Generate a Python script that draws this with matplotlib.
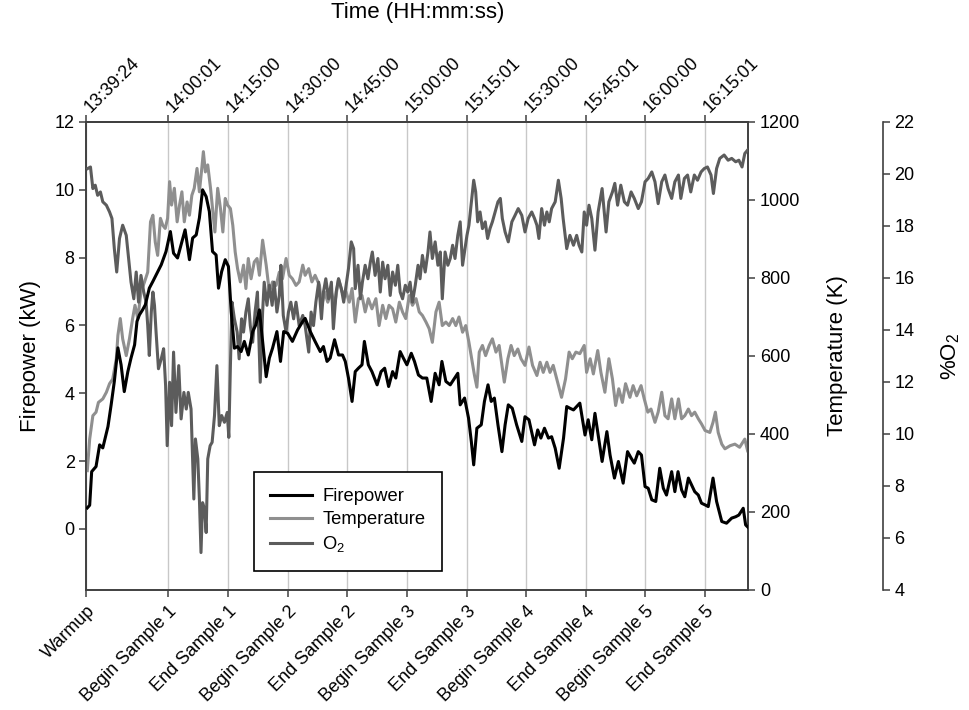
import matplotlib
matplotlib.use("Agg")
import matplotlib.pyplot as plt

plt.rcParams.update(
    {
        "font.family": ["Liberation Sans", "DejaVu Sans"],
        "font.size": 13,
        "mathtext.fontset": "custom",
        "mathtext.rm": "Liberation Sans",
        "mathtext.it": "Liberation Sans:italic",
        "mathtext.bf": "Liberation Sans:bold",
        "axes.linewidth": 1.2,
        "axes.edgecolor": "#404040",
    }
)

# elapsed minutes since 13:39:24
TICK_MIN = [0, 20.62, 35.6, 50.6, 65.6, 80.6, 95.62, 110.6, 125.62, 140.6, 155.62]
TIME_LABELS = ["13:39:24", "14:00:01", "14:15:00", "14:30:00", "14:45:00", "15:00:00",
               "15:15:01", "15:30:00", "15:45:01", "16:00:00", "16:15:01"]
EVENT_LABELS = ["Warmup", "Begin Sample 1", "End Sample 1", "Begin Sample 2", "End Sample 2",
                "Begin Sample 3", "End Sample 3", "Begin Sample 4", "End Sample 4",
                "Begin Sample 5", "End Sample 5"]

FP_MIN = [0.2, 0.8, 1.3, 2.4, 3.3, 4.1, 5.4, 6.2, 7.0, 7.9, 8.7, 9.5, 10.4, 11.2, 12.1, 12.7, 13.3,
          14.1, 14.8, 15.8, 16.7, 18.8, 20.0, 21.1, 21.9, 22.9, 23.8, 24.8, 25.9, 26.7, 27.6, 28.4,
          29.2, 30.1, 30.9, 31.7, 32.6, 33.2, 34.0, 34.9, 35.7, 36.4, 37.2, 38.0, 38.9, 39.7, 40.7,
          41.8, 42.6, 43.5, 44.3, 45.2, 46.0, 46.8, 47.9, 48.8, 49.6, 50.6, 51.8, 53.1, 54.4, 55.0,
          56.3, 57.5, 58.8, 59.6, 60.5, 61.3, 62.4, 63.4, 64.4, 65.1, 65.9, 66.8, 67.6, 68.4, 69.3,
          69.9, 70.9, 71.8, 73.1, 74.1, 75.0, 76.0, 77.0, 77.8, 78.9, 79.7, 80.6, 81.7, 82.5, 83.5,
          84.5, 85.6, 86.7, 87.7, 88.7, 89.4, 90.4, 91.5, 92.6, 93.4, 94.0, 95.1, 96.1, 96.8, 97.4,
          98.2, 99.3, 100.1, 101.0, 101.8, 102.6, 103.5, 104.5, 105.3, 106.1, 107.1, 108.2, 109.5,
          110.3, 111.3, 112.7, 113.5, 114.3, 115.2, 116.2, 117.0, 117.9, 118.9, 120.0, 120.8, 121.6,
          122.5, 123.3, 124.1, 124.7, 125.4, 126.2, 127.1, 127.9, 128.7, 129.7, 130.9, 131.7, 132.8,
          133.8, 135.0, 136.1, 137.0, 137.8, 138.8, 139.6, 140.5, 141.3, 142.2, 143.2, 144.2, 145.1,
          145.9, 147.2, 148.0, 148.8, 149.7, 150.5, 151.4, 152.2, 153.0, 153.9, 154.7, 155.6, 156.4,
          157.6, 158.5, 159.8, 161.0, 162.3, 163.3, 164.1, 165.2, 165.8, 166.4]
FP_KW = [0.62, 0.70, 1.69, 1.84, 2.48, 2.39, 3.02, 3.66, 4.35, 5.34, 4.84, 4.05, 4.64, 5.04, 5.43, 6.12,
         6.31, 6.46, 6.61, 7.10, 7.30, 7.79, 8.18, 8.77, 8.13, 7.99, 8.38, 8.82, 7.94, 8.58, 8.67, 9.17,
         10.0, 9.80, 9.36, 8.18, 8.08, 7.10, 7.59, 7.94, 7.74, 6.41, 5.33, 5.38, 5.23, 5.53, 5.13, 5.82,
         6.02, 6.46, 5.53, 4.49, 5.04, 5.33, 5.82, 4.94, 5.82, 5.77, 5.53, 5.87, 6.12, 6.21, 5.82, 5.53,
         5.23, 5.38, 4.94, 5.04, 5.58, 5.13, 5.13, 4.94, 4.45, 3.76, 4.64, 4.74, 4.84, 5.53, 4.84, 4.64,
         4.25, 4.64, 4.74, 4.20, 4.64, 4.45, 5.23, 5.04, 4.84, 5.18, 4.94, 4.54, 4.45, 4.45, 3.76, 4.59,
         4.25, 4.94, 4.35, 4.25, 4.45, 4.59, 3.66, 3.86, 3.27, 2.58, 1.89, 2.97, 3.07, 3.76, 4.25, 3.76,
         3.86, 3.07, 2.28, 3.07, 3.66, 3.56, 3.07, 2.58, 3.31, 3.22, 2.48, 2.92, 2.68, 2.97, 2.68, 2.72,
         2.38, 1.79, 2.68, 3.61, 3.56, 3.51, 3.61, 3.71, 3.27, 2.77, 3.22, 2.63, 3.41, 2.77, 1.99, 2.87,
         2.18, 1.50, 1.99, 1.35, 2.28, 2.09, 1.94, 2.28, 2.18, 1.25, 1.20, 0.86, 0.81, 1.79, 1.20, 1.00,
         1.69, 1.10, 1.69, 1.15, 0.95, 1.50, 1.30, 1.10, 1.00, 0.76, 0.71, 0.66, 1.50, 0.81, 0.22, 0.17,
         0.32, 0.36, 0.41, 0.61, 0.12, 0.05]

TEMP_MIN = [0.2, 0.8, 1.6, 2.4, 3.0, 4.1, 5.0, 5.8, 6.6, 7.5, 7.9, 8.5, 9.1, 10.0, 10.8, 11.6, 12.2,
            12.9, 13.7, 14.6, 15.4, 16.1, 16.7, 17.3, 17.9, 18.6, 19.2, 19.8, 20.4, 20.9, 21.4, 22.1,
            22.8, 23.4, 24.0, 24.6, 25.3, 25.9, 26.5, 27.1, 27.8, 28.4, 29.0, 29.4, 29.9, 30.5, 31.2,
            31.7, 32.3, 33.0, 33.7, 34.3, 34.9, 35.5, 36.2, 36.8, 37.4, 38.0, 38.7, 39.5, 40.1, 40.7,
            41.4, 42.2, 42.9, 43.5, 44.3, 45.2, 46.0, 46.8, 47.7, 48.5, 49.3, 50.2, 51.0, 51.8, 52.7,
            53.5, 54.4, 55.0, 55.9, 56.7, 57.5, 58.6, 59.2, 59.9, 60.7, 61.6, 62.4, 63.4, 64.3, 65.3,
            66.1, 66.8, 67.6, 68.4, 69.3, 70.1, 70.9, 71.8, 72.8, 73.6, 74.5, 75.3, 76.1, 77.0, 77.8,
            78.7, 79.5, 80.3, 81.2, 82.0, 82.9, 83.7, 84.5, 85.4, 86.2, 87.0, 87.9, 88.7, 89.5, 90.4,
            91.2, 92.1, 92.9, 93.7, 94.6, 95.4, 96.2, 96.9, 97.6, 98.2, 98.8, 99.6, 100.4, 101.3, 102.1,
            103.0, 103.8, 104.5, 105.1, 106.0, 106.8, 107.6, 108.5, 109.3, 110.3, 111.3, 112.2, 113.3,
            114.1, 114.9, 115.8, 116.6, 117.4, 118.3, 119.5, 120.5, 121.4, 122.2, 123.1, 124.1, 125.2,
            125.8, 126.7, 127.5, 128.6, 129.4, 130.4, 131.4, 132.3, 133.1, 133.9, 134.8, 135.6, 136.7,
            137.5, 138.4, 139.5, 140.3, 141.2, 142.0, 143.0, 143.8, 144.7, 145.5, 146.3, 147.2, 148.0,
            148.9, 149.7, 150.5, 151.4, 152.2, 153.0, 153.9, 154.7, 155.6, 156.8, 157.6, 158.2, 158.9,
            159.8, 160.6, 161.9, 163.1, 164.3, 165.6, 166.3]
TEMP_K = [306, 387, 447, 456, 481, 490, 507, 529, 541, 593, 653, 696, 644, 601, 644, 696, 730, 696,
          764, 790, 815, 944, 961, 892, 858, 953, 935, 927, 953, 1047, 987, 1030, 944, 987, 1021, 944,
          995, 961, 1012, 1030, 1081, 1021, 1081, 1124, 1072, 1090, 1030, 978, 918, 1030, 978, 918,
          1004, 987, 978, 935, 867, 824, 790, 833, 773, 850, 798, 841, 850, 807, 897, 833, 764, 790,
          781, 815, 798, 850, 807, 798, 781, 790, 833, 807, 824, 790, 807, 781, 730, 764, 738, 764,
          730, 798, 764, 764, 738, 773, 687, 747, 755, 713, 747, 721, 747, 678, 730, 696, 730, 721,
          687, 738, 713, 696, 755, 730, 747, 713, 704, 687, 670, 635, 713, 738, 678, 687, 678, 696,
          678, 700, 661, 678, 635, 593, 550, 520, 610, 627, 601, 627, 644, 610, 627, 576, 533, 593,
          627, 601, 618, 593, 576, 623, 576, 550, 584, 558, 584, 558, 576, 541, 494, 541, 610, 593,
          610, 606, 627, 558, 593, 554, 614, 558, 507, 593, 541, 473, 516, 481, 529, 494, 524, 498,
          524, 490, 456, 464, 430, 456, 507, 447, 439, 490, 439, 490, 439, 447, 464, 447, 456, 439,
          426, 409, 404, 430, 456, 404, 374, 362, 370, 374, 366, 387, 357]

O2_MIN = [0.3, 1.0, 1.6, 2.2, 2.8, 3.5, 4.1, 5.0, 5.8, 6.4, 7.0, 7.6, 8.3, 9.1, 10.0, 10.6, 11.2, 11.9,
          12.5, 13.1, 13.7, 14.4, 15.0, 15.4, 15.8, 16.3, 16.7, 17.1, 17.5, 18.1, 18.8, 19.4, 19.9,
          20.3, 20.9, 21.4, 21.9, 22.5, 23.2, 23.8, 24.5, 25.1, 25.6, 26.3, 27.0, 27.4, 28.0, 28.4,
          28.8, 29.2, 29.7, 30.1, 30.5, 31.1, 31.6, 32.2, 32.8, 33.4, 34.0, 34.7, 35.4, 35.8, 36.2,
          36.6, 37.2, 37.9, 38.4, 39.0, 39.5, 40.1, 40.7, 41.2, 41.8, 42.4, 43.0, 43.7, 44.3, 44.7,
          45.4, 46.0, 46.7, 47.2, 47.9, 48.5, 48.9, 49.5, 50.2, 50.8, 51.4, 52.1, 52.7, 53.5, 54.4,
          55.0, 55.9, 56.5, 57.1, 57.7, 58.4, 59.1, 59.6, 60.2, 60.9, 61.6, 62.1, 62.8, 63.4, 64.1,
          64.7, 65.3, 65.9, 66.6, 67.2, 67.6, 68.3, 68.9, 69.4, 70.1, 70.8, 71.4, 71.9, 72.6, 73.3,
          73.9, 74.5, 75.1, 75.8, 76.4, 77.0, 77.7, 78.3, 78.9, 79.5, 80.2, 80.8, 81.4, 82.0, 82.7,
          83.4, 83.9, 84.5, 85.2, 85.9, 86.4, 87.0, 87.7, 88.4, 89.0, 89.5, 90.2, 90.9, 91.5, 92.1,
          92.7, 93.4, 94.0, 94.6, 95.1, 95.7, 96.2, 96.9, 97.4, 97.9, 98.4, 99.0, 99.6, 100.3, 100.9,
          101.5, 102.1, 102.8, 103.5, 104.1, 104.6, 105.3, 106.1, 107.0, 107.8, 108.6, 109.5, 110.3,
          111.1, 112.0, 112.7, 113.3, 113.8, 114.5, 115.2, 115.8, 116.4, 117.0, 117.9, 118.7, 119.4,
          119.9, 120.8, 121.6, 122.5, 123.3, 123.9, 124.6, 125.2, 125.8, 126.4, 127.1, 127.9, 128.7,
          129.7, 130.7, 131.4, 132.3, 132.9, 133.6, 134.4, 135.3, 136.1, 137.0, 137.8, 138.8, 139.6,
          140.5, 141.3, 142.2, 143.0, 143.8, 144.7, 145.5, 146.3, 147.2, 148.0, 148.9, 149.5, 150.4,
          151.2, 152.0, 152.9, 153.7, 154.6, 155.4, 156.2, 157.1, 157.7, 158.5, 159.3, 160.4, 161.4,
          162.3, 163.3, 164.1, 164.9, 165.6, 166.3]
O2_PCT = [20.21, 20.27, 19.44, 19.57, 19.18, 19.31, 18.93, 18.80, 18.54, 18.29, 17.13, 16.23, 17.52,
          18.03, 17.64, 16.75, 15.84, 15.20, 16.23, 15.07, 16.10, 15.46, 15.07, 14.17, 13.02, 14.69,
          15.46, 14.95, 13.92, 12.51, 12.89, 13.28, 11.86, 9.55, 11.99, 10.32, 13.15, 10.83, 12.63,
          10.58, 11.60, 10.96, 11.60, 10.96, 7.50, 9.81, 9.04, 7.50, 5.44, 7.36, 7.11, 6.21, 9.04, 9.55,
          9.68, 10.71, 12.63, 10.32, 10.71, 10.45, 10.83, 9.87, 12.63, 15.07, 14.43, 13.92, 12.89,
          14.43, 13.92, 14.69, 15.20, 14.17, 13.53, 14.69, 15.46, 11.99, 14.69, 15.84, 14.95, 15.72,
          14.95, 15.84, 14.69, 15.33, 16.49, 14.56, 13.92, 14.69, 15.07, 14.43, 15.07, 14.17, 14.56,
          14.17, 13.15, 14.69, 14.17, 15.07, 15.84, 14.43, 15.46, 15.97, 15.20, 15.84, 14.05, 15.46,
          15.97, 15.59, 15.07, 15.72, 16.36, 17.39, 17.13, 15.59, 16.49, 15.20, 15.84, 16.49, 15.97,
          16.61, 17.00, 16.10, 16.75, 15.46, 16.61, 15.97, 16.49, 15.33, 16.23, 15.72, 16.49, 15.46,
          15.20, 15.72, 15.46, 15.84, 15.07, 15.72, 16.49, 15.97, 16.87, 16.23, 17.00, 17.77, 16.75,
          17.39, 16.49, 17.00, 15.20, 17.00, 16.49, 16.75, 17.26, 16.75, 17.64, 18.16, 16.49, 17.00,
          17.64, 18.03, 19.06, 19.76, 19.31, 18.16, 18.54, 17.90, 18.16, 17.52, 17.90, 18.16, 18.54,
          18.93, 19.06, 18.29, 17.77, 17.39, 18.16, 18.41, 18.67, 18.41, 17.77, 18.29, 18.54, 18.29,
          18.03, 17.52, 18.67, 18.03, 18.54, 18.16, 18.67, 18.93, 19.76, 19.06, 18.29, 17.13, 17.64,
          17.26, 17.64, 17.26, 17.00, 18.54, 18.03, 18.80, 18.29, 17.07, 18.54, 19.44, 17.77, 18.93,
          19.31, 19.64, 18.80, 19.57, 18.93, 18.80, 19.31, 19.06, 18.67, 18.93, 19.70, 19.83, 20.08,
          19.70, 18.86, 19.70, 19.96, 19.44, 19.06, 19.70, 19.96, 19.06, 19.83, 19.96, 19.31, 19.96,
          19.76, 20.08, 20.21, 20.27, 19.96, 19.25, 20.21, 20.60, 20.73, 20.53, 20.60, 20.47, 20.53,
          20.27, 20.79, 20.92]

SPINE = "#404040"
FP_COLOR = "#000000"
TEMP_COLOR = "#8f8f8f"
O2_COLOR = "#5c5c5c"

fig = plt.figure(figsize=(9.7, 7.1), dpi=100)
ax = fig.add_axes([86.5 / 970, 1 - 590 / 710, (748 - 86.5) / 970, (590 - 122) / 710])

ax.set_xlim(0, 166.4)
ax.set_ylim(-1.8, 12)
ax.set_yticks(range(0, 13, 2))
ax.set_xticks(TICK_MIN, labels=EVENT_LABELS)
plt.setp(ax.get_xticklabels(), rotation=45, ha="right", va="top", rotation_mode="anchor")
ax.tick_params(axis="both", direction="out", length=5, width=1.1, color=SPINE, labelsize=13)
ax.tick_params(axis="x", pad=4)
ax.grid(axis="x", color="#c8c8c8", linewidth=1.0)
ax.set_ylabel("Firepower (kW)", fontsize=16)
ax.yaxis.set_label_coords(-0.085, 0.5)
ax.yaxis.label.set_va("center")

top = ax.secondary_xaxis("top")
top.set_xticks(TICK_MIN, labels=TIME_LABELS)
plt.setp(top.get_xticklabels(), rotation=45, ha="left", va="center_baseline", rotation_mode="anchor")
top.tick_params(direction="out", length=5, width=1.1, color=SPINE, labelsize=13, pad=5)
top.spines["top"].set_color(SPINE)
ax.text(0.5, 1.233, "Time (HH:mm:ss)", transform=ax.transAxes, ha="center", va="center", fontsize=16)

# temperature axis, drawn under the others
tax = ax.twinx()
tax.set_ylim(0, 1200)
tax.set_yticks(range(0, 1201, 200))
tax.tick_params(direction="out", length=5, width=1.1, color=SPINE, labelsize=13)
tax.set_ylabel("Temperature (K)", fontsize=16)
tax.yaxis.set_label_coords(1.136, 0.5)
tax.yaxis.label.set_va("center")
t_line, = tax.plot(TEMP_MIN, TEMP_K, color=TEMP_COLOR, linewidth=2.2, label="Temperature")

# O2 axis, offset to the right
oax = ax.twinx()
oax.set_ylim(4, 22)
oax.set_yticks(range(4, 23, 2))
oax.spines["right"].set_position(("axes", 1.2035))
for side in ["left", "top", "bottom"]:
    oax.spines[side].set_visible(False)
oax.tick_params(direction="out", length=5, width=1.1, color=SPINE, labelsize=13)
oax.set_ylabel("%O$_2$", fontsize=16)
oax.yaxis.set_label_coords(1.306, 0.5)
oax.yaxis.label.set_va("center")
o_line, = oax.plot(O2_MIN, O2_PCT, color=O2_COLOR, linewidth=2.2, label="O$_2$")

# firepower on its own twin so it sits on top of the gray lines
fax = ax.twinx()
fax.set_ylim(ax.get_ylim())
fax.yaxis.set_visible(False)
for side in ["left", "right", "top", "bottom"]:
    fax.spines[side].set_visible(False)
f_line, = fax.plot(FP_MIN, FP_KW, color=FP_COLOR, linewidth=2.2, label="Firepower")

leg = fax.legend(
    [f_line, t_line, o_line],
    ["Firepower", "Temperature", "O$_2$"],
    loc="upper left",
    bbox_to_anchor=(0.2526, 0.2528),
    borderaxespad=0,
    fontsize=13.2,
    fancybox=False,
    framealpha=1,
    edgecolor="black",
    handlelength=2.3,
    handletextpad=0.55,
    labelspacing=0.33,
    borderpad=0.9,
)
leg.get_frame().set_linewidth(1.2)

fig.savefig("out.png", dpi=100)
